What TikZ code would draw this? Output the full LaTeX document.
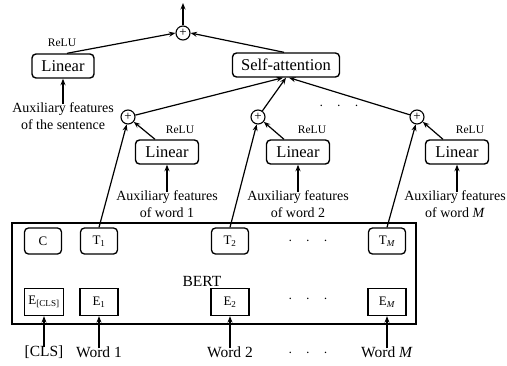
\documentclass[tikz,border=0pt]{standalone}
\usepackage{fontspec}
\setmainfont{Liberation Serif}
\usetikzlibrary{arrows.meta}
\tikzset{
  every picture/.style={x=1pt,y=-1pt},
  lbox/.style={draw,line width=1.4pt,rounded corners=4pt,minimum height=24pt,inner sep=0pt,font=\fontsize{16.5}{18}\selectfont},
  tbox/.style={draw,line width=1.3pt,rounded corners=4pt,minimum width=37pt,minimum height=26pt,inner sep=0pt,font=\fontsize{13}{15}\selectfont},
  ebox/.style={draw,line width=1.3pt,minimum width=38pt,minimum height=27pt,inner sep=0pt,font=\fontsize{13}{15}\selectfont},
  plus/.style={draw,circle,line width=1.1pt,minimum size=14pt,inner sep=0pt,font=\fontsize{13}{13}\selectfont},
  lab/.style={align=center,font=\fontsize{14}{16.5}\selectfont,inner sep=0pt},
  inlab/.style={font=\fontsize{15.5}{17}\selectfont,inner sep=0pt},
  relu/.style={font=\fontsize{11.5}{13}\selectfont,inner sep=0pt},
  arr/.style={line width=1.2pt,-{Stealth[length=6.5pt,width=5pt]}},
  dots/.style={font=\fontsize{14}{14}\selectfont,inner sep=0pt}
}
\begin{document}
\begin{tikzpicture}
\useasboundingbox (0,0) rectangle (507,365);
% top
\node[plus] (pt) at (183,33) {+};
\coordinate (top) at (183,3);
\draw[arr] (pt) -- (top);
\node[lbox,minimum width=62pt] (linS) at (63,66) {Linear};
\node[lbox,minimum width=107pt] (self) at (286,65) {Self-attention};
\node[relu] (reluS) at (62,43) {ReLU};
\draw[arr] ([xshift=4pt]linS.north) -- (pt.west);
\draw[arr] ([xshift=-2pt]self.north) -- (pt.east);
\node[lab] (auxS) at (63,116) {Auxiliary features\\of the sentence};
\draw[arr] ([yshift=-1pt]auxS.north) -- (linS.south);
% level 2 plus
\node[plus] (p1) at (128,117) {+};
\node[plus] (p2) at (258,117) {+};
\node[plus] (p3) at (417,117) {+};
\draw[arr] (p1) -- ([xshift=-3pt]self.south);
\draw[arr] (p2) -- ([xshift=0pt]self.south);
\draw[arr] (p3) -- ([xshift=3pt]self.south);
\node[dots] (dtop) at (339,106) {$\cdot\ \ \ \cdot\ \ \ \cdot$};
% level 2 linears
\node[lbox,minimum width=63pt] (l1) at (167,152) {Linear};
\node[lbox,minimum width=63pt] (l2) at (298,152) {Linear};
\node[lbox,minimum width=63pt] (l3) at (457,152) {Linear};
\node[relu] (r1) at (180,130) {ReLU};
\node[relu] (r2) at (312,130) {ReLU};
\node[relu] (r3) at (470,130) {ReLU};
\draw[arr] ([xshift=-12pt]l1.north) -- (p1.-40);
\draw[arr] ([xshift=-14pt]l2.north) -- (p2.-40);
\draw[arr] ([xshift=-14pt]l3.north) -- (p3.-40);
\node[lab] (a1) at (167,204) {Auxiliary features\\of word 1};
\node[lab] (a2) at (298,204) {Auxiliary features\\of word 2};
\node[lab] (a3) at (455,204) {Auxiliary features\\of word \textit{M}};
\draw[arr] ([yshift=-1pt]a1.north) -- (l1.south);
\draw[arr] ([yshift=-1pt]a2.north) -- (l2.south);
\draw[arr] ([yshift=-1pt]a3.north -| l3.south) -- (l3.south);
% BERT
\node[draw,line width=1.4pt,minimum width=404pt,minimum height=101pt,inner sep=0pt] (bert) at (214,273.5) {};
\node[inlab] (bertl) at (202,281) {BERT};
\node[tbox] (c) at (43,241) {C};
\node[tbox] (t1) at (99,241) {T\textsubscript{1}};
\node[tbox] (t2) at (230,241) {T\textsubscript{2}};
\node[tbox] (tm) at (387,241) {T\textsubscript{\itshape M}};
\node[ebox,minimum width=39pt] (ecls) at (44,302) {E\textsubscript{[CLS]}};
\node[ebox] (e1) at (99,302) {E\textsubscript{1}};
\node[ebox] (e2) at (230,302) {E\textsubscript{2}};
\node[ebox] (em) at (387,302) {E\textsubscript{\itshape M}};
\node[dots] (dt) at (308,241) {$\cdot\ \ \ \cdot\ \ \ \cdot$};
\node[dots] (de) at (308,299) {$\cdot\ \ \ \cdot\ \ \ \cdot$};
\draw[arr] (t1.north) -- (p1.-100);
\draw[arr] (t2.north) -- (p2.-100);
\draw[arr] (tm.north) -- (p3.-100);
% inputs
\node[inlab] (wcls) at (44,352) {[CLS]};
\node[inlab] (w1) at (99,352) {Word 1};
\node[inlab] (w2) at (230,352) {Word 2};
\node[inlab] (wm) at (387,352) {Word \textit{M}};
\node[dots] (dw) at (308,353) {$\cdot\ \ \ \cdot\ \ \ \cdot$};
\draw[arr] ([yshift=-2pt]wcls.north) -- (ecls.south);
\draw[arr] ([yshift=-2pt]w1.north) -- (e1.south);
\draw[arr] ([yshift=-2pt]w2.north) -- (e2.south);
\draw[arr] ([yshift=-2pt]wm.north) -- (em.south);
\end{tikzpicture}
\end{document}
